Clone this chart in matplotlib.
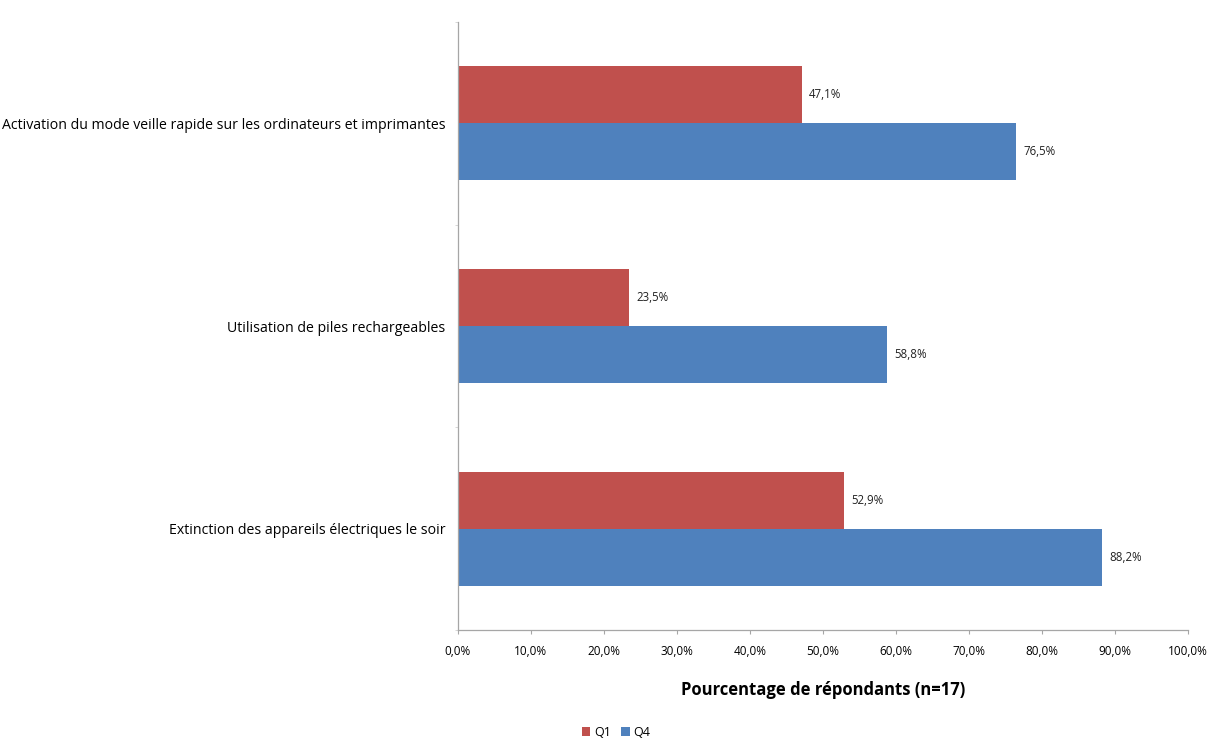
import matplotlib
matplotlib.use("Agg")
import matplotlib.pyplot as plt
import numpy as np
from matplotlib.ticker import FixedLocator

plt.rcParams['font.family'] = ['Open Sans', 'DejaVu Sans']

categories = [
    "Activation du mode veille rapide sur les ordinateurs et imprimantes",
    "Utilisation de piles rechargeables",
    "Extinction des appareils électriques le soir",
]
q1 = [47.1, 23.5, 52.9]
q4 = [76.5, 58.8, 88.2]
series_names = ["Q1", "Q4"]
xticks = [0, 10, 20, 30, 40, 50, 60, 70, 80, 90, 100]

red = "#C0504D"
blue = "#4F81BD"
axis_grey = "#A6A6A6"

fig = plt.figure(figsize=(12.08, 7.38), dpi=100)
ax = fig.add_axes([0.379, 0.1463, 0.6044, 0.8239])

y = np.arange(len(categories))
h = 0.281
b1 = ax.barh(y - h / 2, q1, height=h, color=red, label=series_names[0])
b2 = ax.barh(y + h / 2, q4, height=h, color=blue, label=series_names[1])

def fmt(v):
    return f"{v:.1f}%".replace(".", ",")

for bars, vals in ((b1, q1), (b2, q4)):
    for bar, v in zip(bars, vals):
        ax.text(v + 1.0, bar.get_y() + bar.get_height() / 2, fmt(v),
                va="center", ha="left", fontsize=8.3, color="#222222")

ax.set_xlim(0, 100)
ax.set_ylim(len(categories) - 0.5, -0.5)
ax.set_xticks(xticks)
ax.set_xticklabels([fmt(t) for t in xticks], fontsize=8.5)
ax.set_yticks(y)
ax.set_yticklabels(categories, fontsize=10.2)
ax.yaxis.set_minor_locator(FixedLocator(np.arange(-0.5, len(categories), 1.0)))
ax.tick_params(axis="y", which="major", length=0, pad=9)
ax.tick_params(axis="y", which="minor", length=2, color="#D0D0D0", direction="out")
ax.tick_params(axis="x", length=3, color=axis_grey, direction="out", pad=8)

for side in ("top", "right"):
    ax.spines[side].set_visible(False)
for side in ("left", "bottom"):
    ax.spines[side].set_color(axis_grey)
    ax.spines[side].set_linewidth(0.9)

ax.set_xlabel("Pourcentage de répondants (n=17)", fontsize=12, fontweight="bold", labelpad=16)

fig.legend(handles=[b1, b2], labels=series_names, loc="lower center",
           bbox_to_anchor=(0.51, -0.016), ncol=2, frameon=False, fontsize=9,
           handlelength=0.7, handleheight=0.7, handletextpad=0.3, columnspacing=0.8)

fig.savefig("out.png", dpi=100, facecolor="white")
